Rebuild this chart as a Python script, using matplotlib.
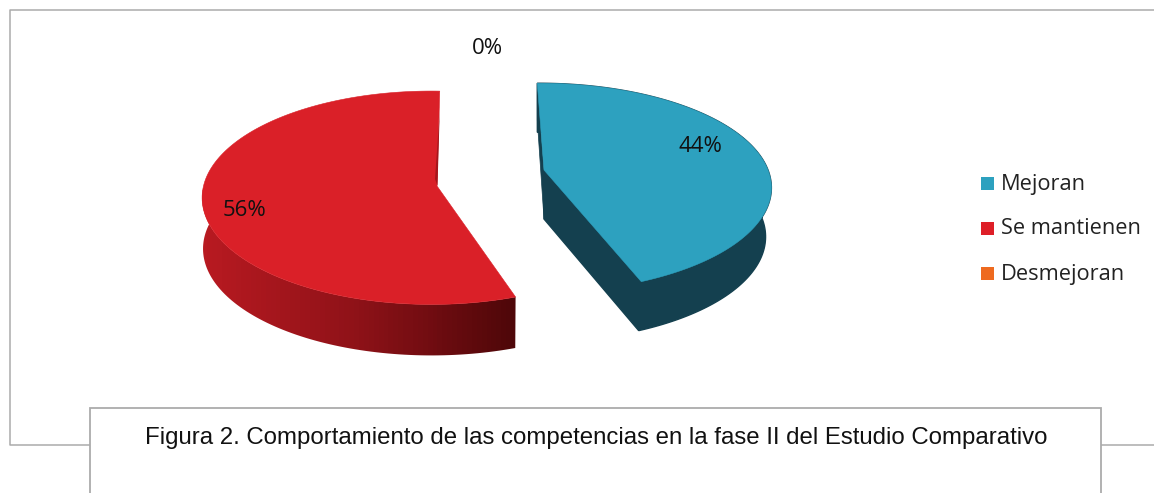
import numpy as np
import matplotlib
matplotlib.use("Agg")
import matplotlib.pyplot as plt
from matplotlib.colors import LinearSegmentedColormap
from matplotlib.patches import Polygon, Rectangle

categories = ["Mejoran", "Se mantienen", "Desmejoran"]
values = [44, 56, 0]
colors = ["#2DA1BF", "#DA2028", "#EE6A1F"]
legend_colors = ["#2DA1BF", "#DE1F28", "#EE6A1F"]
caption = "Figura 2. Comportamiento de las competencias en la fase II del Estudio Comparativo"

# look of each exploded slice in pixels: apex, radii, perspective, rotation
slice_style = [
    dict(cx=544, cy=170, ox=-5, rx=229, ry=101.5, k=0.17, rot=-0.5, depth=49, shrink=0.975),
    dict(cx=437, cy=186, ox=-5.5, rx=228, ry=105.4, k=0.11, rot=2.3, depth=51, shrink=0.996),
]
label_pos = [(700, 146), (245, 211), (487, 49)]


def project(t, s, scale=1.0, drop=0):
    # t in degrees clockwise from the top, goes through a simple perspective
    u = np.sin(np.radians(t))
    v = np.cos(np.radians(t))
    w = 1 + s["k"] * v
    x = s["cx"] + s["ox"] + scale * s["rx"] * u / w
    y = s["cy"] - s["ry"] * v / w + drop
    return x, y


fig = plt.figure(figsize=(11.54, 4.93), dpi=100)
ax = fig.add_axes([0, 0, 1, 1])
ax.set_xlim(0, 1154)
ax.set_ylim(493, 0)
ax.axis("off")

# chart frame and the caption box on top of it
frame = "#ABABAB"
ax.plot([1154, 10, 10, 1154], [10, 10, 445, 445], color=frame, lw=1.1, zorder=1)
ax.add_patch(Rectangle((90, 408), 1011, 100, fc="white", ec=frame, lw=1.3, zorder=2))
ax.text(596, 438, caption, family="Liberation Sans", fontsize=17.3, ha="center", va="center",
        color="#111111", zorder=3)

total = sum(values)
start = 0
shade = LinearSegmentedColormap.from_list("shade", ["#B81A21", "#8E1218", "#4F0709"])
for i, value in enumerate(values):
    sweep = 360 * value / total
    if value == 0:
        continue
    s = slice_style[i]
    t = np.linspace(start + s["rot"], start + sweep + s["rot"], 160)
    tx, ty = project(t, s)
    bx, by = project(t, s, s["shrink"], s["depth"])
    ax_, ay_ = s["cx"], s["cy"]

    if i == 0:
        # dark side of the blue slice, both cut faces and the outer wall
        wall = np.r_[np.c_[tx, ty], np.c_[bx[::-1], by[::-1]]]
        ax.add_patch(Polygon(wall, fc="#14404F", ec="#14404F", lw=1, zorder=4))
        face = [[tx[0], ty[0]], [ax_, ay_], [ax_, ay_ + s["depth"]], [tx[0], ty[0] + 37]]
        ax.add_patch(Polygon(face, fc="#14404F", ec="#14404F", lw=0.5, zorder=4))
        face2 = [[ax_, ay_], [tx[-1], ty[-1]], [bx[-1], by[-1]], [ax_, ay_ + s["depth"]]]
        ax.add_patch(Polygon(face2, fc="#14404F", ec="#14404F", lw=1, zorder=4))
    else:
        # red wall gets a left to right shadow
        wall = np.r_[np.c_[tx, ty], np.c_[bx[::-1], by[::-1]]]
        keep = Polygon(wall, transform=ax.transData, fc="none", ec="none")
        ax.add_patch(keep)
        grad = np.linspace(0, 1, 64).reshape(1, -1)
        im = ax.imshow(grad, cmap=shade, extent=[tx.min(), tx.max(), 360, 190],
                       aspect="auto", zorder=4)
        im.set_clip_path(keep)
        ax.set_xlim(0, 1154)
        ax.set_ylim(493, 0)
        # thin inner face next to the top of the slice
        sliver = [[tx[-1], ty[-1] + 20], [ax_ + 0.5, ay_], [ax_ - 2, ay_ - 7]]
        ax.add_patch(Polygon(sliver, fc="#A5161C", ec="none", zorder=6))

    top = np.r_[[[ax_, ay_]], np.c_[tx, ty]]
    ax.add_patch(Polygon(top, fc=colors[i], ec=colors[i], lw=0.4, zorder=5))
    start += sweep

# percent labels, the zero one stays on its own at the top
for value, (x, y) in zip(values, label_pos):
    ax.text(x, y, f"{value}%", family="Open Sans", fontsize=16, ha="center", va="center",
            color="#111111", zorder=7)

# legend
legend_y = [183.5, 228, 273.5]
for name, col, y in zip(categories, legend_colors, legend_y):
    ax.add_patch(Rectangle((981, y - 6.5), 13, 13, fc=col, ec="none", zorder=7))
    ax.text(1001, y + 1, name, family="Open Sans", fontsize=15.7, ha="left", va="center",
            color="#222222", zorder=7)

fig.savefig("out.png", dpi=100)
